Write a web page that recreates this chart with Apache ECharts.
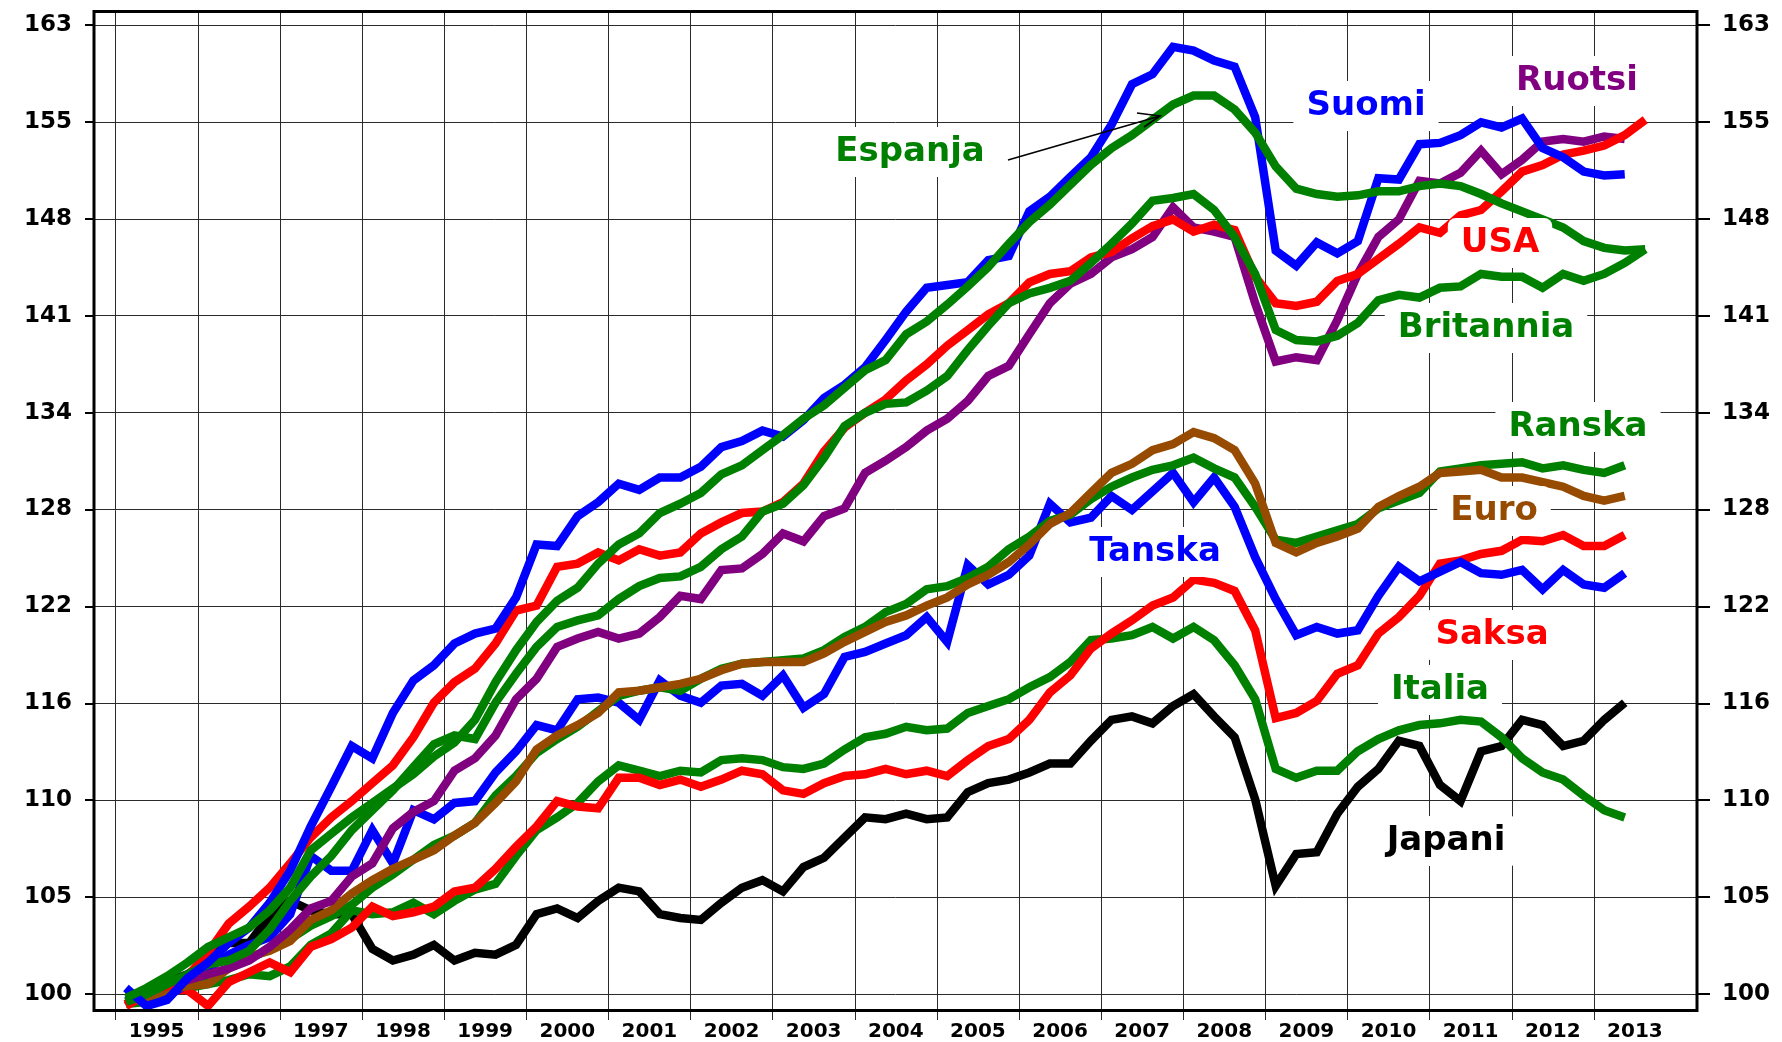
<!DOCTYPE html>
<html>
<head>
<meta charset="utf-8">
<title>Asuntohinnat 1995-2013</title>
<script src="https://cdn.jsdelivr.net/npm/echarts@6/dist/echarts.min.js"></script>
<style>
html, body { margin: 0; padding: 0; background: #fff; }
#chart { width: 1782px; height: 1042px; }
</style>
</head>
<body>
<div id="chart"></div>
<script>
// quarters 1995Q1 .. 2013Q3
const quarters = [];
for (let y = 1995; y <= 2013; y++) {
    for (let q = 1; q <= 4; q++) quarters.push(y + 'Q' + q);
}

// y tick values (index, 5 % steps)
const yTickLabels = [100, 105, 110, 116, 122, 128, 134, 141, 148, 155, 163];
const yearLabels = ['1995','1996','1997','1998','1999','2000','2001','2002','2003','2004',
    '2005','2006','2007','2008','2009','2010','2011','2012','2013'];

// index values per quarter
const suomi = [
    100.3, 99.4, 99.7, 100.8,  101.6, 102.6, 103.4, 104.7,  106.4, 108.8, 111.0, 113.3,
    112.6, 115.2, 117.1, 118.0,  119.3, 119.9, 120.2, 122.1,  125.4, 125.3, 127.2, 128.1,
    129.3, 128.9, 129.7, 129.7,  130.4, 131.7, 132.1, 132.8,  132.4, 133.5, 135.0, 135.9,
    137.1, 139.0, 141.0, 142.7,  142.9, 143.1, 144.7, 145.0,  148.3, 149.4, 150.9, 152.4,
    154.9, 158.1, 158.9, 161.1,  160.8, 160.0, 159.5, 155.5,  145.4, 144.3, 146.0, 145.2,
    146.1, 150.8, 150.7, 153.4,  153.5, 154.1, 155.1, 154.7,  155.4, 153.1, 152.4, 151.3,
    151.0, 151.1
];
const espanja = [
    99.8, 100.3, 100.9, 101.6,  102.4, 102.9, 103.4, 104.3,  105.5, 107.5, 108.4, 109.3,
    110.1, 110.9, 111.7, 112.7,  113.5, 114.8, 117.0, 118.9,  120.6, 121.9, 122.7, 124.2,
    125.4, 126.1, 127.4, 128.0,  128.7, 129.9, 130.5, 131.5,  132.5, 133.6, 134.5, 135.7,
    136.9, 137.6, 139.4, 140.3,  141.5, 142.8, 144.2, 145.9,  147.5, 148.8, 150.3, 151.8,
    153.1, 154.1, 155.3, 156.5,  157.2, 157.2, 156.1, 154.3,  151.7, 150.0, 149.6, 149.4,
    149.5, 149.8, 149.8, 150.2,  150.4, 150.2, 149.6, 148.9,  148.3, 147.7, 147.1, 146.1,
    145.6, 145.4, 145.5
];
const usa = [
    99.5, 100.2, 100.4, 100.9,  102.1, 103.6, 104.5, 105.5,  106.8, 108.2, 109.3, 110.2,
    111.2, 112.2, 113.8, 115.8,  117.0, 117.8, 119.3, 121.3,  121.6, 124.0, 124.2, 124.9,
    124.4, 125.1, 124.7, 124.9,  126.1, 126.8, 127.4, 127.5,  128.1, 129.3, 131.4, 133.0,
    134.0, 134.9, 136.2, 137.3,  138.6, 139.7, 140.8, 141.6,  143.1, 143.7, 143.9, 144.9,
    145.3, 146.3, 147.2, 147.7,  146.8, 147.3, 146.9, 143.5,  141.6, 141.4, 141.7, 143.2,
    143.7, 144.8, 145.9, 147.1,  146.7, 148.0, 148.4, 149.8,  151.3, 151.8, 152.6, 152.9,
    153.3, 154.1, 155.3
];
const britannia = [
    99.6, 100.0, 100.5, 101.0,  101.5, 101.7, 102.2, 103.3,  104.8, 106.1, 107.2, 108.6,
    109.7, 110.8, 112.1, 113.4,  113.9, 113.7, 115.8, 117.5,  119.1, 120.3, 120.7, 121.0,
    122.0, 122.8, 123.3, 123.4,  124.0, 125.1, 125.9, 127.5,  128.0, 129.2, 131.0, 133.1,
    134.0, 134.6, 134.7, 135.5,  136.5, 138.3, 140.0, 141.6,  142.3, 142.7, 143.2, 144.5,
    145.9, 147.4, 149.1, 149.3,  149.6, 148.4, 146.4, 143.7,  139.7, 139.0, 138.9, 139.3,
    140.2, 141.8, 142.2, 142.0,  142.7, 142.8, 143.7, 143.5,  143.5, 142.7, 143.7, 143.2,
    143.7, 144.5, 145.5
];
const ruotsi = [
    99.8, 100.2, 100.5, 100.7,  101.0, 101.3, 101.7, 102.4,  103.3, 104.4, 104.8, 106.1,
    106.8, 108.7, 109.6, 110.2,  111.9, 112.6, 113.9, 116.0,  117.2, 119.1, 119.6, 120.0,
    119.6, 119.9, 120.9, 122.2,  122.0, 123.8, 123.9, 124.8,  126.1, 125.6, 127.2, 127.7,
    130.0, 130.8, 131.7, 132.8,  133.6, 134.8, 136.5, 137.2,  139.4, 141.6, 143.0, 143.7,
    144.9, 145.5, 146.4, 148.6,  147.1, 146.8, 146.4, 141.6,  137.5, 137.8, 137.6, 140.4,
    143.7, 146.4, 147.7, 150.6,  150.4, 151.2, 152.9, 151.1,  152.2, 153.6, 153.8, 153.6,
    154.0, 153.8
];
const ranska = [
    99.8, 100.0, 100.3, 100.6,  100.9, 101.3, 101.8, 102.3,  102.8, 103.5, 104.0, 104.6,
    105.5, 106.2, 107.0, 107.8,  108.3, 109.0, 110.5, 111.6,  112.9, 113.7, 114.4, 115.3,
    116.2, 116.5, 116.7, 116.5,  117.2, 117.8, 118.1, 118.2,  118.3, 118.4, 118.9, 119.7,
    120.3, 121.2, 121.7, 122.6,  122.8, 123.3, 124.0, 125.1,  125.9, 126.9, 127.3, 128.3,
    129.1, 129.7, 130.2, 130.5,  131.0, 130.3, 129.7, 127.8,  125.7, 125.5, 125.9, 126.3,
    126.7, 127.7, 128.2, 128.7,  130.1, 130.3, 130.5, 130.6,  130.7, 130.3, 130.5, 130.2,
    130.0, 130.5
];
const euro = [
    99.7, 99.8, 100.2, 100.4,  100.5, 101.3, 101.9, 102.2,  102.7, 103.8, 104.3, 105.2,
    105.9, 106.5, 107.0, 107.5,  108.3, 109.0, 110.1, 111.3,  113.1, 113.9, 114.5, 115.2,
    116.4, 116.5, 116.7, 116.9,  117.2, 117.7, 118.1, 118.2,  118.2, 118.2, 118.7, 119.4,
    120.0, 120.6, 121.0, 121.6,  122.1, 122.9, 123.5, 124.3,  125.4, 126.7, 127.4, 128.7,
    130.0, 130.6, 131.5, 131.9,  132.7, 132.3, 131.5, 129.3,  125.5, 124.9, 125.5, 125.9,
    126.4, 127.8, 128.5, 129.1,  130.0, 130.1, 130.2, 129.7,  129.7, 129.4, 129.1, 128.5,
    128.2, 128.5
];
const tanska = [
    100.0, 99.6, 99.9, 100.5,  101.3, 102.0, 102.5, 102.9,  104.1, 107.2, 106.4, 106.4,
    108.6, 106.8, 109.7, 109.2,  110.1, 110.2, 111.8, 113.0,  114.5, 114.2, 116.0, 116.1,
    115.8, 114.8, 117.1, 116.2,  115.8, 116.8, 116.9, 116.2,  117.4, 115.5, 116.3, 118.5,
    118.8, 119.3, 119.8, 120.9,  119.4, 124.1, 122.9, 123.5,  124.7, 128.0, 126.8, 127.1,
    128.5, 127.6, 128.8, 130.0,  128.1, 129.7, 127.8, 124.6,  122.0, 119.8, 120.3, 119.9,
    120.1, 122.2, 124.0, 123.1,  123.7, 124.3, 123.6, 123.5,  123.8, 122.6, 123.8, 122.9,
    122.7, 123.6
];
const saksa = [
    99.4, 100.0, 100.2, 100.2,  99.4, 100.6, 101.1, 101.6,  101.1, 102.4, 102.8, 103.4,
    104.5, 104.0, 104.2, 104.5,  105.3, 105.5, 106.5, 107.7,  108.8, 110.2, 109.9, 109.8,
    111.5, 111.5, 111.1, 111.4,  111.0, 111.4, 111.9, 111.7,  110.8, 110.6, 111.2, 111.6,
    111.7, 112.0, 111.7, 111.9,  111.6, 112.5, 113.3, 113.7,  114.8, 116.4, 117.4, 119.0,
    119.9, 120.7, 121.6, 122.1,  123.2, 123.0, 122.5, 120.1,  114.9, 115.2, 115.9, 117.5,
    118.0, 119.9, 120.9, 122.2,  124.2, 124.4, 124.8, 125.0,  125.7, 125.6, 126.0, 125.3,
    125.3, 126.0
];
const italia = [
    99.5, 99.6, 100.1, 100.3,  100.5, 100.7, 101.0, 100.9,  101.4, 102.5, 103.1, 104.3,
    104.1, 104.2, 104.7, 104.1,  104.8, 105.4, 105.7, 107.2,  108.6, 109.3, 110.1, 111.3,
    112.2, 111.9, 111.6, 111.9,  111.8, 112.5, 112.6, 112.5,  112.1, 112.0, 112.3, 113.1,
    113.8, 114.0, 114.4, 114.2,  114.3, 115.2, 115.6, 116.0,  116.7, 117.3, 118.2, 119.5,
    119.6, 119.8, 120.3, 119.6,  120.3, 119.5, 118.0, 116.0,  112.0, 111.5, 111.9, 111.9,
    113.0, 113.7, 114.2, 114.5,  114.6, 114.8, 114.7, 113.8,  112.6, 111.8, 111.4, 110.5,
    109.7, 109.3
];
const japani = [
    99.5, 100.0, 100.6, 101.0,  101.7, 102.6, 102.6, 104.0,  104.8, 104.3, 104.1, 104.1,
    102.3, 101.7, 102.0, 102.5,  101.7, 102.1, 102.0, 102.5,  104.1, 104.4, 103.9, 104.8,
    105.5, 105.3, 104.1, 103.9,  103.8, 104.7, 105.5, 105.9,  105.3, 106.6, 107.1, 108.2,
    109.3, 109.2, 109.5, 109.2,  109.3, 110.7, 111.2, 111.4,  111.8, 112.3, 112.3, 113.6,
    114.8, 115.0, 114.6, 115.6,  116.3, 115.0, 113.8, 110.3,  105.6, 107.3, 107.4, 109.5,
    111.0, 112.0, 113.6, 113.3,  111.1, 110.2, 113.0, 113.3,  114.8, 114.5, 113.3, 113.6,
    114.8, 115.8
];

// drawing order: first is at the bottom
const lines = [
    { name: 'Japani',    data: japani,    color: '#000000' },
    { name: 'Italia',    data: italia,    color: '#008000' },
    { name: 'Saksa',     data: saksa,     color: '#ff0000' },
    { name: 'Tanska',    data: tanska,    color: '#0000ff' },
    { name: 'Ranska',    data: ranska,    color: '#008000' },
    { name: 'Euro',      data: euro,      color: '#964b00' },
    { name: 'Ruotsi',    data: ruotsi,    color: '#800080' },
    { name: 'USA',       data: usa,       color: '#ff0000' },
    { name: 'Britannia', data: britannia, color: '#008000' },
    { name: 'Suomi',     data: suomi,     color: '#0000ff' },
    { name: 'Espanja',   data: espanja,   color: '#008000' }
];

// log scale: one axis step = 5 %
const step = v => Math.log(v / 100) / Math.log(1.05);
const quarterX = label => {
    const y = parseInt(label.slice(0, 4), 10);
    const q = parseInt(label.slice(5), 10);
    return y + (q - 0.5) / 4;
};

const tickFont = { fontFamily: 'DejaVu Sans', fontWeight: 'bold', fontSize: 23, color: '#000' };
const gridColor = '#2a2a2a';

const series = lines.map(l => ({
    name: l.name,
    type: 'line',
    xAxisIndex: 0,
    yAxisIndex: 0,
    symbol: 'none',
    clip: false,
    data: l.data.map((v, i) => [quarterX(quarters[i]), step(v)]),
    lineStyle: { color: l.color, width: 8.5, join: 'miter', miterLimit: 4 },
    itemStyle: { color: l.color },
    emphasis: { disabled: true }
}));

// name boxes (centre x, centre y in px)
const nameBoxes = [
    ['Suomi', '#0000ff', 1366, 106],
    ['Ruotsi', '#800080', 1577, 81],
    ['Espanja', '#008000', 910, 152],
    ['USA', '#ff0000', 1500, 243],
    ['Britannia', '#008000', 1486, 328],
    ['Ranska', '#008000', 1578, 427],
    ['Euro', '#964b00', 1494, 511],
    ['Tanska', '#0000ff', 1155, 552],
    ['Saksa', '#ff0000', 1492, 635],
    ['Italia', '#008000', 1440, 690],
    ['Japani', '#000000', 1446, 841]
];

const graphic = [
    {
        type: 'rect', z: 50, silent: true,
        shape: { x: 94, y: 11.5, width: 1603, height: 999 },
        style: { fill: 'none', stroke: '#000', lineWidth: 3 }
    },
    {
        type: 'polyline', z: 120, silent: true,
        shape: { points: [[1008, 160], [1160, 116]] },
        style: { stroke: '#000', lineWidth: 1.6, fill: 'none' }
    },
    {
        type: 'polyline', z: 120, silent: true,
        shape: { points: [[1137, 113], [1160, 116], [1144, 127]] },
        style: { stroke: '#000', lineWidth: 1.6, fill: 'none' }
    }
].concat(nameBoxes.map(b => ({
    type: 'text', z: 110, silent: true,
    x: b[2], y: b[3],
    style: {
        text: b[0],
        fill: b[1],
        font: 'bold 34px "DejaVu Sans"',
        align: 'center', verticalAlign: 'middle',
        textAlign: 'center', textVerticalAlign: 'middle',
        backgroundColor: '#fff',
        padding: [8, 13],
        borderRadius: 8
    }
})));

const option = {
    animation: false,
    backgroundColor: '#fff',
    grid: [
        { left: 94, right: 85, top: 25, bottom: 48 },
        { left: 115.7, right: 188.1, top: 11.5, bottom: 31.3 }
    ],
    xAxis: [
        { gridIndex: 0, type: 'value', min: 1994.736, max: 2014.255, show: false },
        {
            gridIndex: 1, type: 'value', min: 1995, max: 2013, interval: 1,
            axisLine: { show: false },
            axisTick: { show: true, length: 10, lineStyle: { color: gridColor, width: 1 } },
            splitLine: { show: true, lineStyle: { color: gridColor, width: 1 } },
            axisLabel: Object.assign({}, tickFont, {
                fontSize: 20, margin: 12,
                showMinLabel: true, showMaxLabel: true, hideOverlap: false,
                padding: [0, 0, 0, 82],
                formatter: v => yearLabels[Math.round(v) - 1995] || ''
            })
        }
    ],
    yAxis: [
        {
            gridIndex: 0, type: 'value', position: 'left', min: 0, max: 10, interval: 1,
            axisLine: { show: false },
            axisTick: { show: true, length: 9, lineStyle: { color: '#000', width: 2 } },
            splitLine: { show: true, lineStyle: { color: gridColor, width: 1 } },
            axisLabel: Object.assign({}, tickFont, {
                margin: 22, showMinLabel: true, showMaxLabel: true,
                formatter: v => String(yTickLabels[Math.round(v)])
            })
        },
        {
            gridIndex: 0, type: 'value', position: 'right', min: 0, max: 10, interval: 1,
            axisLine: { show: false },
            axisTick: { show: true, length: 13, lineStyle: { color: '#000', width: 2 } },
            splitLine: { show: false },
            axisLabel: Object.assign({}, tickFont, {
                margin: 25, showMinLabel: true, showMaxLabel: true,
                formatter: v => String(yTickLabels[Math.round(v)])
            })
        },
        { gridIndex: 1, type: 'value', min: 0, max: 1, show: false }
    ],
    series: series,
    graphic: graphic
};

const chart = echarts.init(document.getElementById('chart'), null, { renderer: 'canvas' });
chart.setOption(option);
window.addEventListener('resize', () => chart.resize());
</script>
</body>
</html>
